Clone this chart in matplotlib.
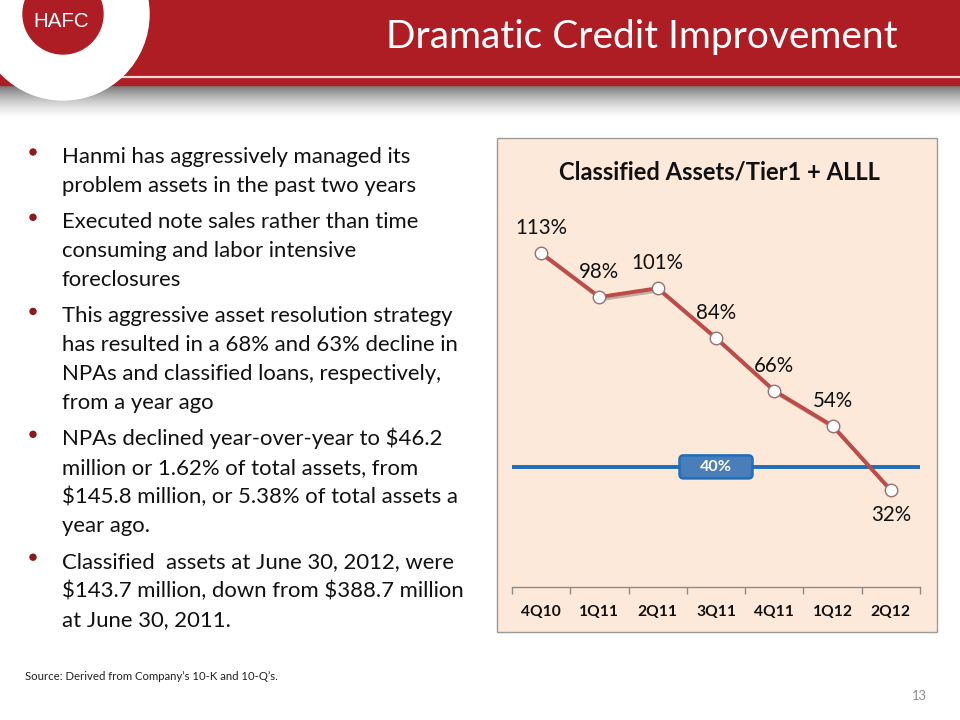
import matplotlib
matplotlib.use("Agg")
import matplotlib.pyplot as plt
import matplotlib.patches as mpatches
import matplotlib.transforms as mtransforms
import matplotlib.patheffects as pe
import numpy as np

# ---------------- data ----------------
categories = ["4Q10", "1Q11", "2Q11", "3Q11", "4Q11", "1Q12", "2Q12"]
ratio_values = [113, 98, 101, 84, 66, 54, 32]
target_value = 40
chart_title = "Classified Assets/Tier1 + ALLL"
slide_title = "Dramatic Credit Improvement"
bullets = [
    ["Hanmi has aggressively managed its",
     "problem assets in the past two years"],
    ["Executed note sales rather than time",
     "consuming and labor intensive",
     "foreclosures"],
    ["This aggressive asset resolution strategy",
     "has resulted in a 68% and 63% decline in",
     "NPAs and classified loans, respectively,",
     "from a year ago"],
    ["NPAs declined year-over-year to $46.2",
     "million or 1.62% of total assets, from",
     "$145.8 million, or 5.38% of total assets a",
     "year ago."],
    ["Classified  assets at June 30, 2012, were",
     "$143.7 million, down from $388.7 million",
     "at June 30, 2011."],
]
source_note = "Source: Derived from Company\u2019s 10-K and 10-Q\u2019s."
page_number = "13"

FONT = "Lato"
W, H = 960, 720
fig = plt.figure(figsize=(9.6, 7.2), dpi=100)
fig.patch.set_facecolor("white")
renderer = fig.canvas.get_renderer()


def fit(t, width_px):
    w = t.get_window_extent(renderer).width
    t.set_fontsize(t.get_fontsize() * width_px / w)
    return t.get_fontsize()


# background axes in pixel coordinates
bg = fig.add_axes([0, 0, 1, 1], zorder=0)
bg.set_xlim(0, W)
bg.set_ylim(H, 0)
bg.axis("off")

# header band
RED = "#AF1D24"
bg.add_patch(mpatches.Rectangle((0, 0), W, 85, color=RED, zorder=1))
# shadow gradient under header
n = 60
shade = np.ones((n, 1, 3))
base = np.array([0.45, 0.45, 0.45])
for i in range(n):
    a = (1 - i / (n - 1)) ** 1.6
    shade[i, 0, :] = base * a + 1.0 * (1 - a)
bg.imshow(shade, extent=(0, W, 120, 85), aspect="auto", zorder=0.5)
# thin light line in the band
bg.plot([95, W], [77, 77], color="#F4D6D6", lw=1.6, zorder=2)

# logo circles
bg.add_patch(mpatches.Circle((63, 14), 86, color="white", zorder=3))
bg.add_patch(mpatches.Circle((63, 14), 40, color=RED, zorder=4))
t = bg.text(61, 27, "HAFC", color="white", fontsize=15, family="Liberation Sans",
            ha="center", va="baseline", zorder=5, parse_math=False)
fit(t, 56)

# slide title
t = bg.text(898, 48, slide_title, color="white", fontsize=28, family=FONT,
            ha="right", va="baseline", zorder=5, parse_math=False)
fit(t, 511)

# bullets
probe = bg.text(0, 0, bullets[2][0], fontsize=18, family=FONT, parse_math=False)
bsize = fit(probe, 390)
probe.remove()
y = 163.0
for b in bullets:
    bg.add_patch(mpatches.Circle((33, y - 11), 3.0, color="#8B1A1A", zorder=3))
    for line in b:
        bg.text(62, y, line, fontsize=bsize, family=FONT, color="#111111",
                ha="left", va="baseline", zorder=3, parse_math=False)
        y += 28.8
    y += 36.5 - 28.8

# footer
t = bg.text(25, 680, source_note, fontsize=7, family=FONT, color="#222222",
            ha="left", va="baseline", parse_math=False)
fit(t, 253)
t = bg.text(927, 700, page_number, fontsize=10, family=FONT, color="#8C8C8C",
            ha="right", va="baseline")
fit(t, 15)

# chart panel
bg.add_patch(mpatches.Rectangle((497, 138), 440, 494, facecolor="#FDE9DA",
                                edgecolor="#9A9A9A", lw=1.0, zorder=1))
t = bg.text(719, 179, chart_title, fontsize=15, family=FONT, weight="bold",
            color="#111111", ha="center", va="baseline", zorder=3, parse_math=False)
fit(t, 322)

# ---------------- chart axes ----------------
ax_left, ax_right, ax_bottom, ax_top = 512, 920, 587, 174
ax = fig.add_axes([ax_left / W, (H - ax_bottom) / H,
                   (ax_right - ax_left) / W, (ax_bottom - ax_top) / H], zorder=2)
ax.set_facecolor("none")
x = np.arange(len(categories))
ax.set_xlim(-0.5, len(categories) - 0.5)
ax.set_ylim(-1, 140)
for s in ["top", "left", "right"]:
    ax.spines[s].set_visible(False)
ax.spines["bottom"].set_color("#8C8C8C")
ax.spines["bottom"].set_linewidth(1.0)
ax.set_yticks([])
ax.set_xticks(x)
ax.set_xticks(np.arange(-0.5, len(categories)), minor=True)
ax.tick_params(axis="x", which="major", length=0, pad=13)
ax.tick_params(axis="x", which="minor", length=5, color="#8C8C8C", width=1.0)
ax.set_xticklabels(categories, family=FONT, weight="bold", color="#111111")
probe = ax.text(0, 0, "1Q11", fontsize=10, family=FONT, weight="bold")
tsize = fit(probe, 39.5)
probe.remove()
for l in ax.get_xticklabels():
    l.set_fontsize(tsize)

# target line
ax.axhline(target_value, color="#1F6EB8", lw=2.8, zorder=2)

# series line
ax.plot(x, ratio_values, color="#BE4B48", lw=2.8, zorder=4,
        path_effects=[pe.SimpleLineShadow(offset=(1.5, -1.5), alpha=0.25),
                      pe.Normal()])
ax.plot(x, ratio_values, linestyle="none", marker="o", ms=9,
        mfc="white", mec="#9A7070", mew=1.0, zorder=5)

# data labels
probe = ax.text(0, 0, "113%", fontsize=12, family=FONT, parse_math=False)
lsize = fit(probe, 52)
probe.remove()
for xi, v in zip(x, ratio_values):
    off = -25 if v < target_value else 25
    ax.annotate(f"{v}%", (xi, v), xytext=(0, off), textcoords="offset pixels",
                ha="center", va="center", fontsize=lsize, family=FONT,
                color="#111111", zorder=6, parse_math=False)

# target label box
fig.canvas.draw()
cx, cy = ax.transData.transform((3, target_value))
trans = mtransforms.Affine2D().translate(cx, cy)
box = mpatches.FancyBboxPatch((-36.5, -11.5), 73, 23,
                              boxstyle="round,pad=0,rounding_size=4",
                              facecolor="#4A7EBB", edgecolor="#1F6EB8", lw=1.8,
                              transform=trans, zorder=7)
ax.add_artist(box)
probe = ax.text(0, 0, "40%", fontsize=10, family=FONT, weight="bold", parse_math=False)
bsz = fit(probe, 32)
probe.remove()
ax.annotate(f"{target_value}%", (3, target_value), xytext=(0, 0),
            textcoords="offset pixels", ha="center", va="center",
            fontsize=bsz, family=FONT, weight="bold", color="white", zorder=8,
            parse_math=False)

fig.savefig("out.png", dpi=100)
